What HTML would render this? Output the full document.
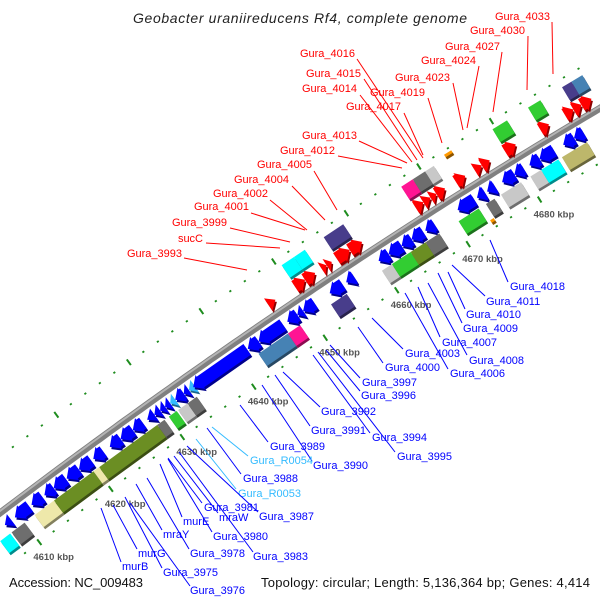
<!DOCTYPE html>
<html><head><meta charset="utf-8"><style>
html,body{margin:0;padding:0;background:#fff;width:600px;height:600px;overflow:hidden}
svg{display:block;font-family:"Liberation Sans",sans-serif}
</style></head><body>
<svg id="chart" width="600" height="600" viewBox="0 0 600 600" xmlns="http://www.w3.org/2000/svg">
<rect width="600" height="600" fill="#fff"/>
<g id="ticks"></g>
<g id="backbone"></g>
<g id="genes"></g>
<g id="labels"></g>
<text x="133" y="23" font-size="14" font-style="italic" fill="#222" textLength="334" lengthAdjust="spacing">Geobacter uraniireducens Rf4, complete genome</text>
<text x="9" y="587" font-size="13" fill="#111" textLength="134">Accession: NC_009483</text>
<text x="261" y="587" font-size="13" fill="#111" textLength="329">Topology: circular; Length: 5,136,364 bp; Genes: 4,414</text>
</svg>
<script>
// ---- data (kbp) ----
const tickStart = 4608;
const tickEnd = 4692;
const majorTicks = [4610, 4620, 4630, 4640, 4650, 4660, 4670, 4680];
const minusStarts = [4608.1,4609.5,4611.8,4613.6,4614.9,4616.7,4618.4,4620.4,4622.7,4624.2,4625.9,4627.9,4628.9,4629.7,4630.4,4631.1,4631.8,4633.0,4633.7,4634.3,4641.9,4643.4,4647.4,4648.8,4649.6,4653.3,4655.6,4660.1,4661.5,4663.3,4664.7,4666.6,4671.1,4673.8,4675.2,4677.3,4679.0,4681.1,4682.5,4685.8,4687.3];
const minusEnds   = [4609.0,4611.5,4613.3,4614.9,4616.6,4618.4,4620.1,4621.8,4624.2,4625.9,4627.3,4628.9,4629.7,4630.4,4631.1,4631.8,4633.0,4633.7,4634.5,4641.8,4643.4,4646.8,4648.8,4649.6,4651.2,4655.1,4656.7,4661.5,4663.3,4664.7,4666.3,4667.9,4673.4,4674.9,4676.3,4679.0,4680.3,4682.5,4684.5,4687.3,4688.6];
const minusTypes  = ['cds','cds','cds','cds','cds','cds','cds','cds','cds','cds','cds','cds','cds','cds','cds','rna','cds','cds','rna','cds','cds','cds','cds','cds','cds','cds','cds','cds','cds','cds','cds','cds','cds','cds','cds','cds','cds','cds','cds','cds','cds'];
const plusStarts = [4646.7,4650.4,4651.8,4654.1,4654.8,4656.2,4658.0,4667.1,4668.2,4669.2,4670.0,4672.7,4675.3,4676.3,4679.5,4684.4,4687.8,4689.0,4690.1];
const plusEnds   = [4647.7,4651.8,4653.2,4654.8,4655.5,4658.0,4659.7,4668.2,4669.2,4670.0,4671.2,4674.0,4676.3,4677.4,4681.0,4685.6,4689.0,4690.1,4691.5];
const cogStarts = [4606.6,4608.2,4611.4,4614.1,4619.6,4620.4,4628.5,4630.1,4631.4,4632.7,4642.6,4646.7,4652.7,4659.8,4661.2,4663.8,4665.9,4670.5,4673.7,4674.3,4676.4,4680.5,4682.0,4684.9,
                   4650.5,4652.2,4656.3,4667.0,4668.6,4670.3,4673.2,4679.6,4684.5,4689.2,4690.5];
const cogEnds   = [4608.0,4610.0,4614.1,4619.6,4620.4,4628.5,4629.5,4631.2,4632.7,4634.0,4646.7,4648.4,4654.9,4661.2,4663.8,4665.9,4667.8,4673.3,4674.2,4675.5,4679.2,4682.0,4684.4,4688.4,
                   4652.2,4653.7,4659.0,4668.6,4670.3,4671.5,4674.2,4681.6,4686.2,4690.5,4692.0];
const cogStrand = [1,1,1,1,1,1,1,1,1,1,1,1,1,1,1,1,1,1,1,1,1,1,1,1,
                   -1,-1,-1,-1,-1,-1,-1,-1,-1,-1,-1];
const cogClass  = ['cyan','gray','pale','olive','pale','olive','gray','green','lgray','gray','steel','magenta','navy','lgray','green','olive','gray','green','orange','gray','lgray','lgray','cyan','khaki',
                   'cyan','cyan','navy','magenta','gray','lgray','orange','green','green','navy','steel'];

const palette = {cyan:'#00ffff',gray:'#6e6e6e',pale:'#eee8aa',olive:'#6b8e23',green:'#32cd32',lgray:'#c8c8c8',steel:'#4682b4',magenta:'#ff1493',navy:'#483d8b',orange:'#ff9900',khaki:'#bdb76b'};

// ---- geometry ----
const NS='http://www.w3.org/2000/svg';
function lx(k){return 227+(k-4640)*7.2;}
function f(x){return 513-0.758*x+0.000139*x*x;}
function fp(x){return -0.758+0.000278*x;}
function P(k,d){const x=lx(k),s=fp(x),n=Math.sqrt(1+s*s);return [x+(-s/n)*d,f(x)+(1/n)*d];}
function pts(a){return a.map(p=>p[0].toFixed(1)+','+p[1].toFixed(1)).join(' ');}
function mk(tag,attrs,parent){const e=document.createElementNS(NS,tag);for(const a in attrs)e.setAttribute(a,attrs[a]);parent.appendChild(e);return e;}
function shade(hex,f){const n=parseInt(hex.slice(1),16);const r=Math.round(((n>>16)&255)*f),g=Math.round(((n>>8)&255)*f),b=Math.round((n&255)*f);return 'rgb('+r+','+g+','+b+')';}

// ---- ticks ----
const tg=document.getElementById('ticks');
[-45,47].forEach(d=>{
  for(let k=tickStart;k<=tickEnd;k+=2){
    const major=majorTicks.indexOf(k)>=0;
    const a=P(k,d-(major?3.5:0.9)),b=P(k,d+(major?3.5:0.9));
    const t=mk('line',{x1:a[0],y1:a[1],x2:b[0],y2:b[1],stroke:'#1e8c1e','stroke-width':major?2:2.2},tg);
    
    
  }
});
majorTicks.forEach(k=>{
  const p=P(k,47);
  const t=mk('text',{x:p[0]-6,y:p[1]+18,'font-size':'9.5','font-weight':'bold',fill:'#555'},tg);
  t.textContent=k+' kbp';
  
  
});

// ---- backbone ----
const bg=document.getElementById('backbone');
let a=[],b=[];
for(let x=-15;x<=615;x+=5){const s=fp(x),n=Math.sqrt(1+s*s);a.push([x,f(x)]);b.push([x-s/n*(-1.6),f(x)-1.6/n]);}
const bl=mk('polyline',{points:pts(a),fill:'none',stroke:'#808080','stroke-width':7},bg);


const hl=mk('polyline',{points:pts(b),fill:'none',stroke:'#b4b4b4','stroke-width':2},bg);



// ---- genes ----
const gg=document.getElementById('genes');
function arrow(k1,k2,d,h,dir){
  const head=1.0;
  if(k2-k1<=head){
    return dir<0?[P(k1,d),P(k2,d-h),P(k2,d+h)]:[P(k2,d),P(k1,d+h),P(k1,d-h)];
  }
  if(dir<0){const kb=k1+head;return [P(k1,d),P(kb,d-h-1),P(kb,d-h+1),P(k2,d-h+1),P(k2,d+h-1),P(kb,d+h-1),P(kb,d+h+1)];}
  const kb=k2-head;return [P(k2,d),P(kb,d+h+1),P(kb,d+h-1),P(k1,d+h-1),P(k1,d-h+1),P(kb,d-h+1),P(kb,d-h-1)];
}
function draw(poly,color,name){
  const s=mk('polygon',{points:pts(poly),fill:shade(color,0.55),transform:'translate(1.5,2.2)'},gg);
  
  
  const m=mk('polygon',{points:pts(poly),fill:color},gg);
  
  
}
minusStarts.forEach((k1,i)=>{
  draw(arrow(k1,minusEnds[i],12.5,7.5,-1),minusTypes[i]==='rna'?'#33bbff':'#0000ff','minus-gene-'+i);
});
plusStarts.forEach((k1,i)=>{
  draw(arrow(k1,plusEnds[i],-12.5,7.5,1),'#ff0000','plus-gene-'+i);
});
cogStarts.forEach((k1,i)=>{
  const isO=cogClass[i]==='orange';
  const dd=cogStrand[i]*(isO?40:30), h=isO?1.5:7.5;
  draw([P(k1,dd-h),P(cogEnds[i],dd-h),P(cogEnds[i],dd+h),P(k1,dd+h)],palette[cogClass[i]],'cog-box-'+i);
});

// ---- labels ----
const lg=document.getElementById('labels');
const redLabels=[
 ['Gura_3993',182,257,247,270,184,258],['sucC',203,242,280,248,206,243],['Gura_3999',227,226,290,242,230,228],
 ['Gura_4001',249,210,305,230,251,213],['Gura_4002',268,197,307,230,270,200],['Gura_4004',289,183,325,220,292,186],
 ['Gura_4005',312,168,337,210,314,171],['Gura_4012',335,154,402,168,338,156],['Gura_4013',357,139,407,163,359,141],
 ['Gura_4014',357,92,412,162,360,95],['Gura_4015',361,77,417,160,364,79],['Gura_4016',355,57,423,158,357,59],
 ['Gura_4017',401,110,423,155,404,113],['Gura_4019',425,96,442,143,428,98],['Gura_4023',450,81,463,130,453,83],
 ['Gura_4024',476,64,467,128,479,66],['Gura_4027',500,50,493,112,502,52],['Gura_4030',525,34,527,90,528,36],
 ['Gura_4033',550,20,553,74,552,22]];
redLabels.forEach(r=>{
  const l=mk('line',{x1:r[3],y1:r[4],x2:r[5],y2:r[6],stroke:'#ff0000','stroke-width':1},lg);
  
  
  const t=mk('text',{x:r[1],y:r[2],'text-anchor':'end','font-size':'11',fill:'#ff0000'},lg);
  t.textContent=r[0];
  
  
});
const blueLabels=[
 ['Gura_4018',510,290,490,240,508,282,'#0000ff'],['Gura_4011',486,305,452,265,485,296,'#0000ff'],
 ['Gura_4010',466,318,448,272,465,309,'#0000ff'],['Gura_4009',463,332,438,273,462,323,'#0000ff'],
 ['Gura_4007',442,346,418,287,440,337,'#0000ff'],['Gura_4008',469,364,428,283,467,355,'#0000ff'],
 ['Gura_4003',405,357,372,318,403,349,'#0000ff'],['Gura_4006',450,377,405,293,448,369,'#0000ff'],
 ['Gura_4000',385,371,358,327,383,363,'#0000ff'],['Gura_3997',362,386,330,345,360,378,'#0000ff'],
 ['Gura_3996',361,399,326,350,360,391,'#0000ff'],['Gura_3992',321,415,283,372,320,407,'#0000ff'],
 ['Gura_3991',311,434,275,375,310,426,'#0000ff'],['Gura_3994',372,441,313,355,370,433,'#0000ff'],
 ['Gura_3995',397,460,318,352,395,452,'#0000ff'],['Gura_3990',313,469,262,385,312,461,'#0000ff'],
 ['Gura_3989',270,450,240,405,268,442,'#0000ff'],['Gura_R0054',250,464,212,427,248,456,'#33bbff'],
 ['Gura_3988',243,482,207,428,241,474,'#0000ff'],['Gura_R0053',238,497,196,439,236,489,'#33bbff'],
 ['Gura_3981',204,511,168,458,202,503,'#0000ff'],['Gura_3987',259,520,187,446,258,512,'#0000ff'],
 ['mraW',219,521,174,456,218,513,'#0000ff'],['murE',183,525,160,464,182,517,'#0000ff'],
 ['Gura_3980',213,540,168,459,212,532,'#0000ff'],['Gura_3983',253,560,179,452,253,552,'#0000ff'],
 ['mraY',163,538,136,484,162,530,'#0000ff'],['Gura_3978',190,557,147,478,189,549,'#0000ff'],
 ['murG',138,557,113,505,137,549,'#0000ff'],['Gura_3975',163,576,125,497,162,568,'#0000ff'],
 ['murB',122,570,101,508,121,562,'#0000ff'],['Gura_3976',190,594,130,503,190,586,'#0000ff']];
blueLabels.forEach(r=>{
  const l=mk('line',{x1:r[3],y1:r[4],x2:r[5],y2:r[6],stroke:r[7],'stroke-width':1},lg);
  
  
  const t=mk('text',{x:r[1],y:r[2],'font-size':'11',fill:r[7]},lg);
  t.textContent=r[0];
  
  
});
</script>
</body></html>
